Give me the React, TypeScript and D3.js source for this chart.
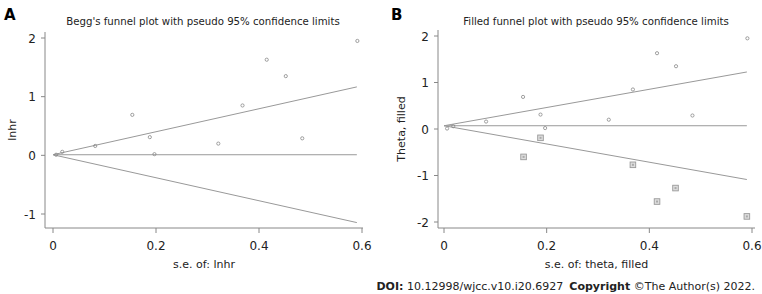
import React from "react";
import * as d3 from "d3";

const seObs = [0.006, 0.018, 0.082, 0.154, 0.188, 0.197, 0.321, 0.368, 0.415, 0.452, 0.484, 0.591];
const thetaObs = [0.01, 0.06, 0.16, 0.69, 0.31, 0.02, 0.2, 0.85, 1.63, 1.35, 0.29, 1.95];
const seFilled = [0.155, 0.188, 0.368, 0.415, 0.451, 0.59];
const thetaFilled = [-0.6, -0.19, -0.77, -1.56, -1.27, -1.88];
const xTicks = [0, 0.2, 0.4, 0.6];
const yTicksA = [-1, 0, 1, 2];
const yTicksB = [-2, -1, 0, 1, 2];
const centerA = 0.01;
const centerB = 0.07;
const seMax = 0.59;

const FONT = "DejaVu Sans, Verdana, sans-serif";
const GRAY = "#999";

type PanelProps = {
  letter: string;
  title: string;
  xLabel: string;
  yLabel: string;
  x: d3.ScaleLinear<number, number>;
  y: d3.ScaleLinear<number, number>;
  axisX: number;
  axisY: number;
  axisTop: number;
  axisRight: number;
  yTicks: number[];
  center: number;
  filled: boolean;
  letterX: number;
  titleX: number;
  yLabelX: number;
};

function Panel(p: PanelProps) {
  const { x, y } = p;
  const line = d3.line<[number, number]>().x((d) => x(d[0])).y((d) => y(d[1]));
  const upper: [number, number][] = [[0, p.center], [seMax, p.center + 1.96 * seMax]];
  const lower: [number, number][] = [[0, p.center], [seMax, p.center - 1.96 * seMax]];
  const mid: [number, number][] = [[0, p.center], [seMax, p.center]];
  const midX = (p.axisX + p.axisRight) / 2;
  return (
    <g>
      <text x={p.letterX} y={20} fontFamily={FONT} fontWeight="bold" fontSize={15}>{p.letter}</text>
      <text x={p.titleX} y={25} fontFamily={FONT} fontSize={10.2} textAnchor="middle" fill="#222">{p.title}</text>
      <line x1={p.axisX} x2={p.axisX} y1={p.axisTop} y2={p.axisY} stroke="#888" strokeWidth={1} />
      <line x1={p.axisX} x2={p.axisRight} y1={p.axisY} y2={p.axisY} stroke="#888" strokeWidth={1} />
      {p.yTicks.map((t) => (
        <g key={"y" + t}>
          <line x1={p.axisX - 4} x2={p.axisX} y1={y(t)} y2={y(t)} stroke="#888" />
          <text x={p.axisX - 9} y={y(t) + 4.5} fontFamily={FONT} fontSize={12} textAnchor="end" fill="#222">{t}</text>
        </g>
      ))}
      {xTicks.map((t) => (
        <g key={"x" + t}>
          <line x1={x(t)} x2={x(t)} y1={p.axisY} y2={p.axisY + 5} stroke="#888" />
          <text x={x(t)} y={p.axisY + 22} fontFamily={FONT} fontSize={12} textAnchor="middle" fill="#222">{t}</text>
        </g>
      ))}
      <text x={midX} y={p.axisY + 40} fontFamily={FONT} fontSize={11} textAnchor="middle" fill="#222">{p.xLabel}</text>
      <text transform={`translate(${p.yLabelX},${(p.axisTop + p.axisY) / 2}) rotate(-90)`} fontFamily={FONT} fontSize={11} textAnchor="middle" fill="#222">{p.yLabel}</text>
      <path d={line(upper) || ""} stroke={GRAY} fill="none" strokeWidth={1} />
      <path d={line(lower) || ""} stroke={GRAY} fill="none" strokeWidth={1} />
      <path d={line(mid) || ""} stroke={GRAY} fill="none" strokeWidth={1} />
      {seObs.map((s, i) => (
        <circle key={"o" + i} cx={x(s)} cy={y(thetaObs[i])} r={1.6} fill="none" stroke="#888" strokeWidth={0.8} />
      ))}
      {p.filled &&
        seFilled.map((s, i) => (
          <g key={"f" + i}>
            <rect x={x(s) - 2.8} y={y(thetaFilled[i]) - 2.8} width={5.6} height={5.6} fill="#ddd" stroke="#999" strokeWidth={0.9} />
            <rect x={x(s) - 1} y={y(thetaFilled[i]) - 1} width={2} height={2} fill="#aaa" />
          </g>
        ))}
    </g>
  );
}

export default function App() {
  const xA = d3.scaleLinear().domain([0, 0.6]).range([53, 362]);
  const yA = d3.scaleLinear().domain([-1, 2]).range([214, 38]);
  const xB = d3.scaleLinear().domain([0, 0.6]).range([444, 752]);
  const yB = d3.scaleLinear().domain([-2, 2]).range([222, 36]);
  return (
    <svg width={762} height={294} style={{ position: "absolute", left: 0, top: 0, background: "#fff" }}>
      <rect width={762} height={294} fill="#fff" />
      <Panel letter="A" title="Begg's funnel plot with pseudo 95% confidence limits" xLabel="s.e. of: lnhr" yLabel="lnhr"
        x={xA} y={yA} axisX={45} axisY={228} axisTop={32} axisRight={363} yTicks={yTicksA} center={centerA} filled={false}
        letterX={4} titleX={203} yLabelX={16} />
      <Panel letter="B" title="Filled funnel plot with pseudo 95% confidence limits" xLabel="s.e. of: theta, filled" yLabel="Theta, filled"
        x={xB} y={yB} axisX={438} axisY={228} axisTop={30} axisRight={755} yTicks={yTicksB} center={centerB} filled={true}
        letterX={391} titleX={596} yLabelX={405} />
      <text x={755} y={290} fontFamily={FONT} fontSize={11} textAnchor="end" fill="#222" style={{ whiteSpace: "pre" }}>
        <tspan fontWeight="bold">DOI:</tspan>
        <tspan> 10.12998/wjcc.v10.i20.6927</tspan>
        <tspan dx={6} fontWeight="bold">Copyright</tspan>
        <tspan> ©The Author(s) 2022.</tspan>
      </text>
    </svg>
  );
}
